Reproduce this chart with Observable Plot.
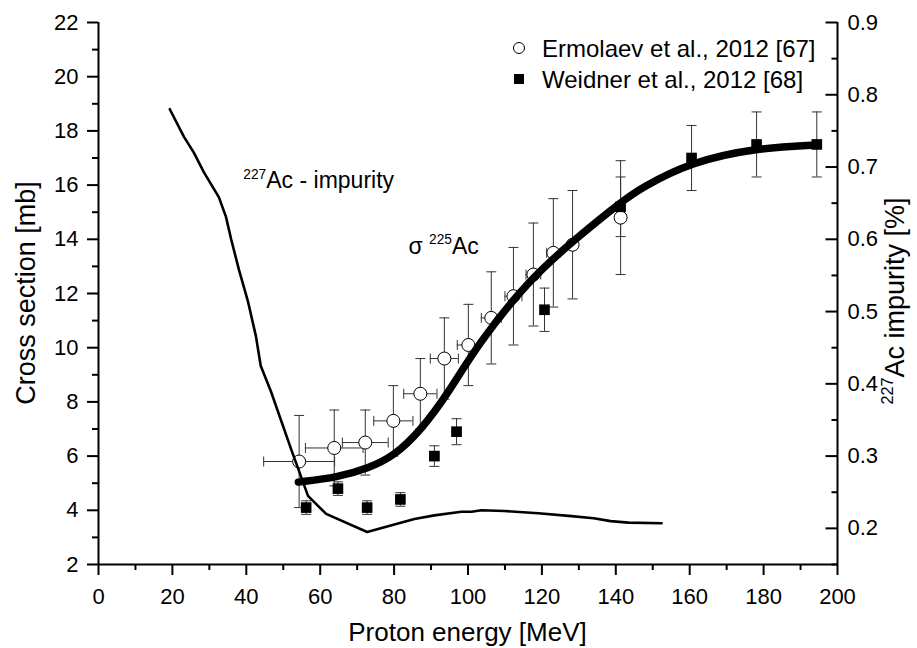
<!DOCTYPE html>
<html><head><meta charset="utf-8">
<script src="https://cdn.jsdelivr.net/npm/d3@7"></script>
<script src="https://cdn.jsdelivr.net/npm/@observablehq/plot@0.6"></script>
<style>
body{margin:0;background:#fff;}
svg text{font-family:"Liberation Sans",Arial,sans-serif;}
</style></head><body><div id="chart"></div>
<script>
// Ermolaev et al., 2012 [67] — open circles
const ermE     = [54.3, 63.8, 72.2, 79.8, 87.1, 93.6, 100.1, 106.3, 112.3, 117.7, 123.1, 128.3, 141.3];
const ermS     = [5.8, 6.3, 6.5, 7.3, 8.3, 9.6, 10.1, 11.1, 11.9, 12.7, 13.5, 13.8, 14.8];
const ermSErr  = [1.7, 1.4, 1.2, 1.3, 1.3, 1.5, 1.5, 1.7, 1.8, 1.9, 2.0, 2.0, 2.1];
const ermEErr  = [9.6, 7.8, 6.2, 5.3, 4.5, 3.8, 3.0, 2.7, 2.3, 2.0, 1.8, 1.0, 0];
// Weidner et al., 2012 [68] — filled squares
const weiE     = [56.2, 64.8, 72.7, 81.7, 90.9, 96.9, 120.7, 141.3, 160.5, 178.1, 194.4];
const weiS     = [4.1, 4.8, 4.1, 4.4, 6.0, 6.9, 11.4, 15.2, 17.0, 17.5, 17.5];
const weiSErr  = [0.25, 0.25, 0.25, 0.25, 0.38, 0.48, 0.8, 1.1, 1.2, 1.2, 1.2];
const weiEErr  = [0, 0, 0, 0, 1.2, 1.2, 1.0, 0, 0, 0, 0];
// sigma 225Ac fit curve
const fitE = [54.1, 64.8, 73.0, 80.0, 87.3, 94.7, 102.5, 116.4, 129.4, 141.5, 146.9, 160.5, 178.1, 194.4];
const fitS = [5.04, 5.22, 5.55, 6.0, 6.96, 8.33, 10.1, 12.5, 14.05, 15.38, 15.9, 16.86, 17.37, 17.48];
// 227Ac impurity (right axis, %)
const impE = [19.3, 23.1, 25.8, 28.5, 32.6, 34.5, 35.9, 38.0, 40.5, 42.6, 43.9, 46.7, 52.1, 56.7, 61.6, 72.7, 85.5, 90.9, 98.2, 101, 103.6, 109.8, 119, 128, 134, 138.6, 143.4, 152.4];
const impV = [0.780, 0.742, 0.720, 0.693, 0.658, 0.631, 0.600, 0.558, 0.513, 0.466, 0.425, 0.389, 0.310, 0.245, 0.220, 0.195, 0.213, 0.218, 0.223, 0.223, 0.225, 0.224, 0.221, 0.217, 0.214, 0.210, 0.208, 0.207];
// ticks
const xTicks = [0, 20, 40, 60, 80, 100, 120, 140, 160, 180, 200];
const xMinor = [10, 30, 50, 70, 90, 110, 130, 150, 170, 190];
const yTicks = [2, 4, 6, 8, 10, 12, 14, 16, 18, 20, 22];
const yMinor = [3, 5, 7, 9, 11, 13, 15, 17, 19, 21];
const rTicks = [0.2, 0.3, 0.4, 0.5, 0.6, 0.7, 0.8, 0.9];
const rMinor = [0.15, 0.25, 0.35, 0.45, 0.55, 0.65, 0.75, 0.85];
const rDomain = [0.15, 0.9];
const yDomain = [2, 22];

// map right-axis values into left-axis units
const toLeft = v => yDomain[0] + (v - rDomain[0]) / (rDomain[1] - rDomain[0]) * (yDomain[1] - yDomain[0]);
const fromLeft = y => rDomain[0] + (y - yDomain[0]) / (yDomain[1] - yDomain[0]) * (rDomain[1] - rDomain[0]);

const erm = ermE.map((e, i) => ({e, s: ermS[i], ds: ermSErr[i], de: ermEErr[i]}));
const wei = weiE.map((e, i) => ({e, s: weiS[i], ds: weiSErr[i], de: weiEErr[i]}));
const fit = fitE.map((e, i) => ({e, s: fitS[i]}));
const imp = impE.map((e, i) => ({e, s: toLeft(impV[i])}));

const hCap = {draw(ctx, size) { const r = Math.sqrt(size / Math.PI); ctx.moveTo(-r, 0); ctx.lineTo(r, 0); }};
const vCap = {draw(ctx, size) { const r = Math.sqrt(size / Math.PI); ctx.moveTo(0, -r); ctx.lineTo(0, r); }};
const leftTick = {draw(ctx, size) { const r = Math.sqrt(size / Math.PI); ctx.moveTo(-r, 0); ctx.lineTo(0, 0); }};

const errColor = "#333";
const errMarks = (data) => [
  Plot.ruleX(data, {x: "e", y1: d => d.s - d.ds, y2: d => d.s + d.ds, stroke: errColor, strokeWidth: 1}),
  Plot.dot(data, {x: "e", y: d => d.s - d.ds, symbol: hCap, r: 5, stroke: errColor, strokeWidth: 1}),
  Plot.dot(data, {x: "e", y: d => d.s + d.ds, symbol: hCap, r: 5, stroke: errColor, strokeWidth: 1}),
  Plot.ruleY(data.filter(d => d.de > 0), {y: "s", x1: d => d.e - d.de, x2: d => d.e + d.de, stroke: errColor, strokeWidth: 1}),
  Plot.dot(data.filter(d => d.de > 0), {x: d => d.e - d.de, y: "s", symbol: vCap, r: 5, stroke: errColor, strokeWidth: 1}),
  Plot.dot(data.filter(d => d.de > 0), {x: d => d.e + d.de, y: "s", symbol: vCap, r: 5, stroke: errColor, strokeWidth: 1})
];

const plot = Plot.plot({
  width: 917, height: 648,
  marginLeft: 98, marginRight: 80, marginTop: 22, marginBottom: 84,
  x: {domain: [0, 200]},
  y: {domain: yDomain},
  style: {fontFamily: "Liberation Sans, Arial, sans-serif", fontSize: "22px", color: "#000", background: "#fff", overflow: "visible"},
  marks: [
    Plot.axisX(xTicks, {tickSize: 11, tickPadding: 13, fontSize: 22, strokeWidth: 2, label: null}),
    Plot.axisX(xMinor, {tickSize: 6, tickFormat: () => "", strokeWidth: 2, label: null}),
    Plot.axisY(yTicks, {tickSize: 11, tickPadding: 9, fontSize: 22, strokeWidth: 2, label: null}),
    Plot.axisY(yMinor, {tickSize: 6, tickFormat: () => "", strokeWidth: 2, label: null}),
    Plot.axisY(rTicks.map(toLeft), {anchor: "right", tickSize: 0, tickPadding: 10, fontSize: 22, label: null,
      tickFormat: d => d3.format(".1f")(fromLeft(d))}),
    Plot.dot(rTicks.map(toLeft), {x: () => 200, y: d => d, symbol: leftTick, r: 12, stroke: "black", strokeWidth: 2}),
    Plot.dot(rMinor.map(toLeft), {x: () => 200, y: d => d, symbol: leftTick, r: 6, stroke: "black", strokeWidth: 2}),
    Plot.ruleX([0, 200], {y1: yDomain[0], y2: yDomain[1], stroke: "black", strokeWidth: 2}),
    Plot.ruleY([yDomain[0]], {x1: 0, x2: 200, stroke: "black", strokeWidth: 2}),
    ...errMarks(erm),
    ...errMarks(wei),
    Plot.dot(erm, {x: "e", y: "s", r: 6.5, fill: "white", stroke: "black", strokeWidth: 1}),
    Plot.line(imp, {x: "e", y: "s", stroke: "black", strokeWidth: 2.6, strokeLinejoin: "round"}),
    Plot.line(fit, {x: "e", y: "s", stroke: "black", strokeWidth: 7.5, curve: "basis", strokeLinecap: "round"}),
    Plot.dot(wei, {x: "e", y: "s", symbol: "square", r: 6, fill: "black", stroke: "none"})
  ]
});
document.getElementById("chart").appendChild(plot);

// texts (titles, annotations, legend)
const svg = d3.select(plot);
const sx = plot.scale("x"), sy = plot.scale("y");
const x0 = sx.apply(0), x1 = sx.apply(200), y0 = sy.apply(yDomain[0]), y1 = sy.apply(yDomain[1]);
const F = "Liberation Sans, Arial, sans-serif";
function rich(x, y, parts, size, opts = {}) {
  const t = svg.append("text")
    .attr("transform", `translate(${x},${y})` + (opts.rotate ? ` rotate(${opts.rotate})` : ""))
    .attr("font-size", size).attr("font-family", F).attr("fill", "black")
    .attr("text-anchor", opts.anchor || "start");
  let up = false;
  for (const p of parts) {
    const ts = t.append("tspan").text(p.t);
    if (p.sup) { ts.attr("font-size", size * 0.6).attr("dy", -size * 0.42); up = true; }
    else if (up) { ts.attr("dy", size * 0.42); up = false; }
  }
  return t;
}
// axis titles
rich((x0 + x1) / 2, 641, [{t: "Proton energy [MeV]"}], 26, {anchor: "middle"});
rich(35, (y0 + y1) / 2, [{t: "Cross section [mb]"}], 27, {anchor: "middle", rotate: -90});
rich(904, (y0 + y1) / 2 + 8, [{t: "227", sup: true}, {t: "Ac impurity [%]"}], 27, {anchor: "middle", rotate: -90});
// annotations
rich(sx.apply(39.3), sy.apply(15.86), [{t: "227", sup: true}, {t: "Ac - impurity"}], 23);
rich(sx.apply(84.0), sy.apply(13.45), [{t: "σ "}, {t: "225", sup: true}, {t: "Ac"}], 23);
// legend
const lg = svg.append("g");
lg.append("circle").attr("cx", 519).attr("cy", 48).attr("r", 5.5).attr("fill", "white").attr("stroke", "black").attr("stroke-width", 1);
lg.append("rect").attr("x", 514).attr("y", 74).attr("width", 10).attr("height", 10).attr("fill", "black");
rich(542, 57, [{t: "Ermolaev et al., 2012 [67]"}], 24);
rich(542, 88, [{t: "Weidner et al., 2012 [68]"}], 24);
</script></body></html>
